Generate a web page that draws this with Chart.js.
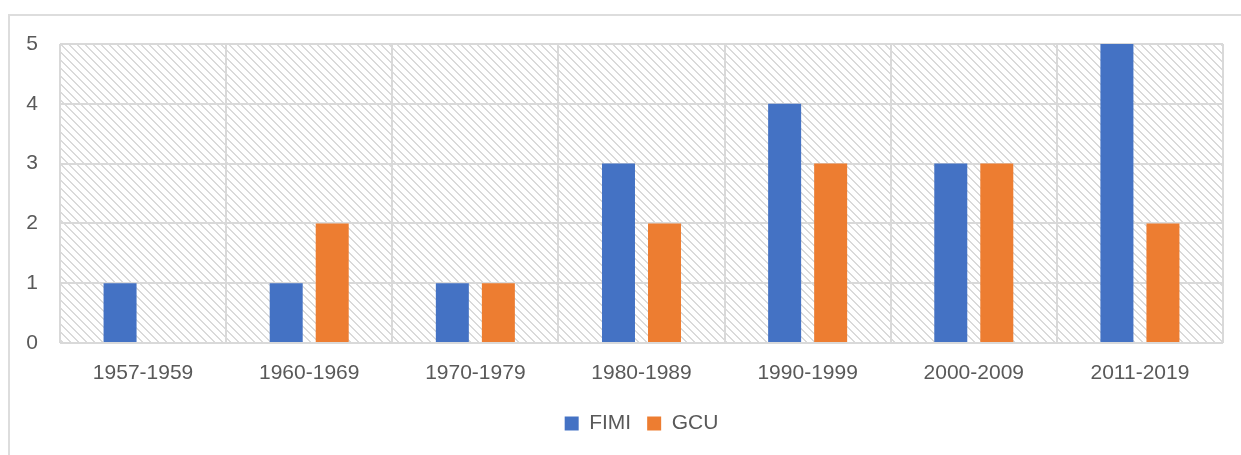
<!DOCTYPE html>
<html>
<head>
<meta charset="utf-8">
<script src="https://cdn.jsdelivr.net/npm/chart.js@4.4.0/dist/chart.umd.min.js"></script>
<style>
  html, body { margin: 0; padding: 0; background: #fff; }
  #frame { position: absolute; left: 8px; top: 14px; width: 1300px; height: 500px;
           border-left: 2px solid #dddddd; border-top: 2px solid #dddddd; }
  #wrap { position: absolute; left: 0; top: 0; width: 1241px; height: 455px; }
</style>
</head>
<body>
<div id="frame"></div>
<div id="wrap"><canvas id="chart" width="1241" height="455"></canvas></div>
<script>
const periods = ['1957-1959', '1960-1969', '1970-1979', '1980-1989', '1990-1999', '2000-2009', '2011-2019'];
const fimi = [1, 1, 1, 3, 4, 3, 5];
const gcu = [0, 2, 1, 2, 3, 3, 2];
const yTicks = [0, 1, 2, 3, 4, 5];

// diagonal hatch for the plot area, like the Excel pattern fill
const makeHatch = (ctx) => {
  const tile = document.createElement('canvas');
  tile.width = 8;
  tile.height = 8;
  const t = tile.getContext('2d');
  t.fillStyle = '#ffffff';
  t.fillRect(0, 0, 8, 8);
  t.fillStyle = '#dadada';
  for (let i = 0; i < 8; i++) {
    t.fillRect(i, i, 1, 1);
    t.fillRect((i + 1) % 8, i, 1, 1);
  }
  return ctx.createPattern(tile, 'repeat');
};

const hatchPlugin = {
  id: 'hatch',
  beforeDraw(chart) {
    const { ctx, chartArea } = chart;
    ctx.save();
    ctx.fillStyle = makeHatch(ctx);
    ctx.fillRect(chartArea.left, chartArea.top, chartArea.right - chartArea.left, chartArea.bottom - chartArea.top);
    ctx.restore();
  }
};

const font = { family: '"Liberation Sans", Arial, sans-serif', size: 21 };

new Chart(document.getElementById('chart'), {
  type: 'bar',
  data: {
    labels: periods,
    datasets: [
      { label: 'FIMI', data: fimi, backgroundColor: '#4472C4', categoryPercentage: 0.554, barPercentage: 0.717 },
      { label: 'GCU', data: gcu, backgroundColor: '#ED7D31', categoryPercentage: 0.554, barPercentage: 0.717 }
    ]
  },
  options: {
    responsive: false,
    animation: false,
    layout: { padding: { top: 44, right: 18, left: 0, bottom: 11 } },
    plugins: {
      tooltip: { enabled: false },
      legend: {
        position: 'bottom',
        fullSize: false,
        labels: { boxWidth: 14, boxHeight: 14, padding: 16, color: '#595959', font: font }
      }
    },
    scales: {
      x: {
        grid: { color: '#d9d9d9', lineWidth: 2, drawTicks: false, offset: true },
        border: { display: false },
        ticks: { color: '#595959', font: font, padding: 18, maxRotation: 0 },
        afterFit: (s) => { s.height = 54; }
      },
      y: {
        min: 0,
        max: 5,
        afterBuildTicks: (s) => { s.ticks = yTicks.map(v => ({ value: v })); },
        grid: { color: '#d9d9d9', lineWidth: 2, drawTicks: false },
        border: { display: false },
        ticks: { color: '#595959', font: font, padding: 22 },
        afterFit: (s) => { s.width = 60; }
      }
    }
  },
  plugins: [hatchPlugin]
});
</script>
</body>
</html>
